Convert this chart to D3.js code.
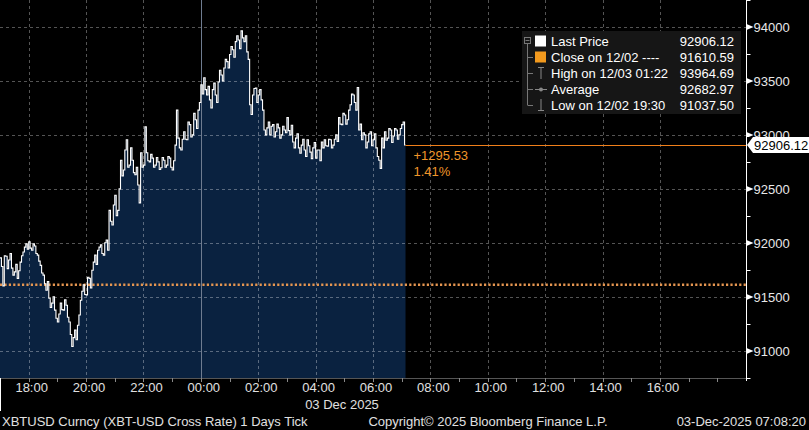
<!DOCTYPE html>
<html>
<head>
<meta charset="utf-8">
<script src="https://cdn.jsdelivr.net/npm/d3@7"></script>
<style>
  body { margin: 0; background: #000; }
  svg { display: block; font-family: "Liberation Sans", Arial, sans-serif; }
</style>
</head>
<body>
<div id="chart"></div>
<script>
// XBTUSD tick chart, 03 Dec 2025
var W = 809, H = 430;
var plotRight = 746, plotBottom = 378;

// data: price every 6 minutes from 02 Dec 17:00
var startTime = new Date(2025, 11, 2, 17, 0);
var stepMinutes = 6;
var prices = [
  91860, 91600, 91875, 91840, 91765, 91730, 91670, 91820, 91915, 91990,
  92010, 91930, 91970, 91885, 91790, 91700, 91560, 91485, 91440, 91375,
  91265, 91440, 91375, 91420, 91265, 91037.5, 91190, 91235, 91467, 91610,
  91515, 91670, 91745, 91885, 91930, 91980, 91885, 92025, 92300, 92165,
  92440, 92300, 92765, 92675, 92955, 92720, 92765, 92630, 92535, 92835,
  92720, 92835, 92750, 92785, 92720, 92750, 92695, 92765, 92720, 92785,
  92675, 92905, 92970, 92860, 93030, 92955, 93095, 93000, 93140, 93230,
  93465, 93530, 93370, 93325, 93420, 93370, 93490, 93555, 93620, 93680,
  93745, 93790, 93865, 93880, 93964.69, 93865, 93770, 93280, 93370, 93435,
  93370, 93325, 93045, 93065, 93000, 93095, 93030, 93065, 93000, 93045,
  93160, 93000, 92935, 92970, 92880, 92905, 92860, 92955, 92840, 92880,
  92785, 92860, 92935, 92955, 92895, 92955, 92905, 93000, 93160, 93095,
  93185, 93140, 93280, 93370, 93230, 93045, 92955, 93000, 92935, 93030,
  92955, 92880, 92765, 92970, 93030, 92970, 93045, 92990, 93045, 93000,
  93095, 92906.12
];
// price 3 minutes into each interval (the spikes)
var midPrices = [
  91780, 91880, 91760, 91900, 91700, 91800, 91740, 91880, 91960, 91940,
  91950, 91990, 91900, 91830, 91720, 91620, 91640, 91400, 91500, 91300,
  91340, 91380, 91470, 91310, 91150, 91120, 91100, 91330, 91550, 91520,
  91680, 91580, 91820, 91800, 91960, 91900, 92000, 91930, 92200, 92350,
  92250, 92500, 92620, 92860, 92700, 92880, 92650, 92700, 92370, 92700,
  93075, 92760, 92820, 92700, 92790, 92680, 92790, 92700, 92800, 92700,
  92760, 93230, 92880, 92960, 92960, 93120, 92980, 93200, 93060, 93300,
  93380, 93420, 93450, 93250, 93480, 93300, 93600, 93500, 93700, 93620,
  93820, 93720, 93920, 93800, 93900, 93920, 93700, 93190, 93430, 93300,
  93420, 93230, 93000, 93120, 93080, 92980, 93100, 92970, 93080, 93020,
  93040, 93090, 92880, 93010, 92830, 92960, 92800, 92900, 92780, 92930,
  92860, 92760, 92880, 92900, 92960, 92880, 92960, 92940, 93100, 93200,
  93100, 93230, 93380, 93300, 93440, 93100, 93020, 92880, 93010, 92900,
  93010, 92800, 92690, 92880, 92950, 93060, 92930, 93060, 92960, 93060,
  93120
];
var lastTime = new Date(2025, 11, 3, 7, 8);

var lastPrice = 92906.12, closePrev = 91610.59;
var priceTicks = [91000, 91500, 92000, 92500, 93000, 93500, 94000];
var minorTicks = [90750, 91250, 91750, 92250, 92750, 93250, 93750, 94250];

var legendRows = [
  {label: "Last Price", value: "92906.12"},
  {label: "Close on 12/02 ----", value: "91610.59"},
  {label: "High on 12/03 01:22", value: "93964.69"},
  {label: "Average", value: "92682.97"},
  {label: "Low on 12/02 19:30", value: "91037.50"}
];

var points = [];
prices.forEach(function(p, i) {
  var t = d3.timeMinute.offset(startTime, i * stepMinutes);
  points.push({t: t, v: p});
  if (i < midPrices.length) points.push({t: d3.timeMinute.offset(t, stepMinutes / 2), v: midPrices[i]});
});
points.push({t: lastTime, v: lastPrice});

var x = d3.scaleTime()
  .domain([new Date(2025, 11, 2, 17, 0), new Date(2025, 11, 3, 19, 0)])
  .range([0, plotRight]);
var y = d3.scaleLinear()
  .domain([90746, 94251])
  .range([plotBottom, 0]);

var svg = d3.select("#chart").append("svg")
  .attr("width", W).attr("height", H);

svg.append("rect").attr("width", W).attr("height", H).attr("fill", "#000");

// area under price
var area = d3.area()
  .curve(d3.curveStepAfter)
  .x(function(d) { return x(d.t); })
  .y0(plotBottom)
  .y1(function(d) { return y(d.v); });
svg.append("path").datum(points)
  .attr("d", area)
  .attr("fill", "#0a2240");

// grid
var hourTicks = d3.timeHour.every(2).range(new Date(2025, 11, 2, 18), new Date(2025, 11, 3, 17));
var midnight = new Date(2025, 11, 3, 0, 0);
svg.append("g").selectAll("line")
  .data(hourTicks.filter(function(d) { return +d !== +midnight; }))
  .enter().append("line")
  .attr("x1", function(d) { return Math.round(x(d)) + 0.5; })
  .attr("x2", function(d) { return Math.round(x(d)) + 0.5; })
  .attr("y1", 0).attr("y2", plotBottom)
  .attr("stroke", "rgba(255,255,255,0.33)")
  .attr("stroke-dasharray", "3,3");
svg.append("g").selectAll("line")
  .data(priceTicks)
  .enter().append("line")
  .attr("x1", 0).attr("x2", plotRight)
  .attr("y1", function(d) { return Math.round(y(d)) + 0.5; })
  .attr("y2", function(d) { return Math.round(y(d)) + 0.5; })
  .attr("stroke", "rgba(255,255,255,0.33)")
  .attr("stroke-dasharray", "3,3");
svg.append("line")
  .attr("x1", Math.round(x(midnight)) + 0.5).attr("x2", Math.round(x(midnight)) + 0.5)
  .attr("y1", 0).attr("y2", plotBottom)
  .attr("stroke", "#6f7c90");

// previous close dotted line
svg.append("line")
  .attr("x1", 0).attr("x2", plotRight)
  .attr("y1", y(closePrev)).attr("y2", y(closePrev))
  .attr("stroke", "#e69650")
  .attr("stroke-width", 2.5)
  .attr("stroke-dasharray", "2.2,2.2");

// price line
var line = d3.line()
  .curve(d3.curveStepAfter)
  .x(function(d) { return x(d.t); })
  .y(function(d) { return y(d.v); });
svg.append("path").datum(points)
  .attr("d", line)
  .attr("fill", "none")
  .attr("stroke", "#fff")
  .attr("stroke-width", 1.1);

// last price line + change
svg.append("line")
  .attr("x1", x(lastTime)).attr("x2", plotRight)
  .attr("y1", Math.round(y(lastPrice)) + 0.5).attr("y2", Math.round(y(lastPrice)) + 0.5)
  .attr("stroke", "#f07f1a")
  .attr("stroke-width", 1.2);
var chg = lastPrice - closePrev;
svg.append("text")
  .attr("x", x(lastTime) + 8).attr("y", y(lastPrice) + 15)
  .attr("fill", "#f0962a").attr("font-size", 13)
  .text("+" + d3.format(".2f")(chg));
svg.append("text")
  .attr("x", x(lastTime) + 8).attr("y", y(lastPrice) + 31)
  .attr("fill", "#f0962a").attr("font-size", 13)
  .text(d3.format(".2f")(chg / closePrev * 100) + "%");

// right axis
svg.append("line")
  .attr("x1", plotRight + 0.5).attr("x2", plotRight + 0.5)
  .attr("y1", 0).attr("y2", plotBottom + 2)
  .attr("stroke", "#fff");
var yAxis = svg.append("g").attr("transform", "translate(" + (plotRight + 0.5) + ",0)");
yAxis.selectAll(".minor").data(minorTicks).enter().append("line")
  .attr("x1", 0).attr("x2", 4)
  .attr("y1", function(d) { return Math.round(y(d)) + 0.5; })
  .attr("y2", function(d) { return Math.round(y(d)) + 0.5; })
  .attr("stroke", "#fff");
var maj = yAxis.selectAll(".major").data(priceTicks.filter(function(d) { return d !== 93000; })).enter().append("g")
  .attr("transform", function(d) { return "translate(0," + Math.round(y(d)) + ")"; });
maj.append("path").attr("d", "M0,-3L7,0L0,3Z").attr("fill", "#fff");
maj.append("text").attr("x", 7).attr("dy", "0.36em")
  .attr("fill", "#e8e8e8").attr("font-size", 13)
  .text(function(d) { return d; });
// 93000 sits behind the last price tag, only its top shows
var tagY = Math.round(y(lastPrice));
var clip = svg.append("clipPath").attr("id", "above-tag");
clip.append("rect").attr("x", -10).attr("y", 0).attr("width", 80).attr("height", tagY - 8);
var t93 = yAxis.append("g").attr("clip-path", "url(#above-tag)");
t93.append("path").attr("d", "M0," + (Math.round(y(93000)) - 3) + "L7," + Math.round(y(93000)) + "L0," + (Math.round(y(93000)) + 3) + "Z")
  .attr("fill", "#fff");
t93.append("text").attr("x", 7).attr("y", Math.round(y(93000))).attr("dy", "0.36em")
  .attr("fill", "#e8e8e8").attr("font-size", 13)
  .text("93000");

// last price tag
svg.append("path")
  .attr("d", "M747," + tagY + "L753," + (tagY - 8) + "L809," + (tagY - 8) + "L809," + (tagY + 8) + "L753," + (tagY + 8) + "Z")
  .attr("fill", "#fff");
svg.append("text").attr("x", 754).attr("y", tagY).attr("dy", "0.36em")
  .attr("fill", "#000").attr("font-size", 13)
  .text(d3.format(".2f")(lastPrice));

// bottom axis
var xAxis = svg.append("g");
xAxis.append("line").attr("x1", 0).attr("x2", plotRight + 1)
  .attr("y1", plotBottom + 0.5).attr("y2", plotBottom + 0.5)
  .attr("stroke", "#555");
xAxis.selectAll(".tk").data(d3.timeHour.every(1).range(new Date(2025, 11, 2, 17), new Date(2025, 11, 3, 19)))
  .enter().append("line")
  .attr("x1", function(d) { return Math.round(x(d)) + 0.5; })
  .attr("x2", function(d) { return Math.round(x(d)) + 0.5; })
  .attr("y1", plotBottom).attr("y2", plotBottom + 4)
  .attr("stroke", "#888");
xAxis.selectAll(".lbl").data(hourTicks).enter().append("text")
  .attr("x", function(d) { return x(d) + 3; })
  .attr("y", 392)
  .attr("text-anchor", "middle")
  .attr("fill", "#e0e0e0").attr("font-size", 13)
  .text(d3.timeFormat("%H:%M"));
svg.append("text").attr("x", 342).attr("y", 409)
  .attr("text-anchor", "middle")
  .attr("fill", "#e0e0e0").attr("font-size", 13)
  .text("03 Dec 2025");
svg.append("line").attr("x1", 0.5).attr("x2", 0.5)
  .attr("y1", plotBottom).attr("y2", 411).attr("stroke", "#fff");
svg.append("line").attr("x1", plotRight + 0.5).attr("x2", plotRight + 0.5)
  .attr("y1", plotBottom).attr("y2", 381).attr("stroke", "#fff");

// footer
svg.append("text").attr("x", 2).attr("y", 426)
  .attr("fill", "#e0e0e0").attr("font-size", 13)
  .text("XBTUSD Curncy (XBT-USD Cross Rate) 1 Days Tick");
svg.append("text").attr("x", 488).attr("y", 426).attr("text-anchor", "middle")
  .attr("fill", "#e0e0e0").attr("font-size", 13)
  .text("Copyright\u00a9 2025 Bloomberg Finance L.P.");
svg.append("text").attr("x", 806).attr("y", 426).attr("text-anchor", "end")
  .attr("fill", "#e0e0e0").attr("font-size", 13)
  .text("03-Dec-2025 07:08:20");

// legend
var lg = svg.append("g");
lg.append("rect").attr("x", 522).attr("y", 31).attr("width", 219).attr("height", 83)
  .attr("fill", "#161616");
var rowY = function(i) { return 41 + i * 16; };
lg.append("rect").attr("x", 524.5).attr("y", 37.5).attr("width", 6).attr("height", 6)
  .attr("fill", "none").attr("stroke", "#777");
lg.append("line").attr("x1", 525.5).attr("x2", 529.5).attr("y1", 40.5).attr("y2", 40.5).attr("stroke", "#777");
lg.append("line").attr("x1", 527.5).attr("x2", 527.5).attr("y1", 44).attr("y2", rowY(4)).attr("stroke", "#777");
[1, 2, 3, 4].forEach(function(i) {
  lg.append("line").attr("x1", 527.5).attr("x2", 533).attr("y1", rowY(i) + 0.5).attr("y2", rowY(i) + 0.5).attr("stroke", "#777");
});
lg.append("rect").attr("x", 535).attr("y", rowY(0) - 5.5).attr("width", 11).attr("height", 11).attr("fill", "#fff");
lg.append("rect").attr("x", 535).attr("y", rowY(1) - 5.5).attr("width", 11).attr("height", 11).attr("fill", "#f39a1e");
// high icon
lg.append("path").attr("d", "M538," + (rowY(2) - 5.5) + "H544M541," + (rowY(2) - 5.5) + "V" + (rowY(2) + 6))
  .attr("stroke", "#888").attr("fill", "none");
// average icon
lg.append("line").attr("x1", 535).attr("x2", 547).attr("y1", rowY(3) + 0.5).attr("y2", rowY(3) + 0.5).attr("stroke", "#888");
lg.append("circle").attr("cx", 541).attr("cy", rowY(3) + 0.5).attr("r", 2).attr("fill", "#888");
// low icon
lg.append("path").attr("d", "M541," + (rowY(4) - 6) + "V" + (rowY(4) + 5.5) + "M538," + (rowY(4) + 5.5) + "H544")
  .attr("stroke", "#888").attr("fill", "none");
lg.selectAll(".lt").data(legendRows).enter().append("text")
  .attr("x", 551).attr("y", function(d, i) { return rowY(i); }).attr("dy", "0.36em")
  .attr("fill", "#fff").attr("font-size", 13)
  .text(function(d) { return d.label; });
lg.selectAll(".lv").data(legendRows).enter().append("text")
  .attr("x", 734).attr("y", function(d, i) { return rowY(i); }).attr("dy", "0.36em")
  .attr("text-anchor", "end")
  .attr("fill", "#fff").attr("font-size", 13)
  .text(function(d) { return d.value; });
</script>
</body>
</html>
